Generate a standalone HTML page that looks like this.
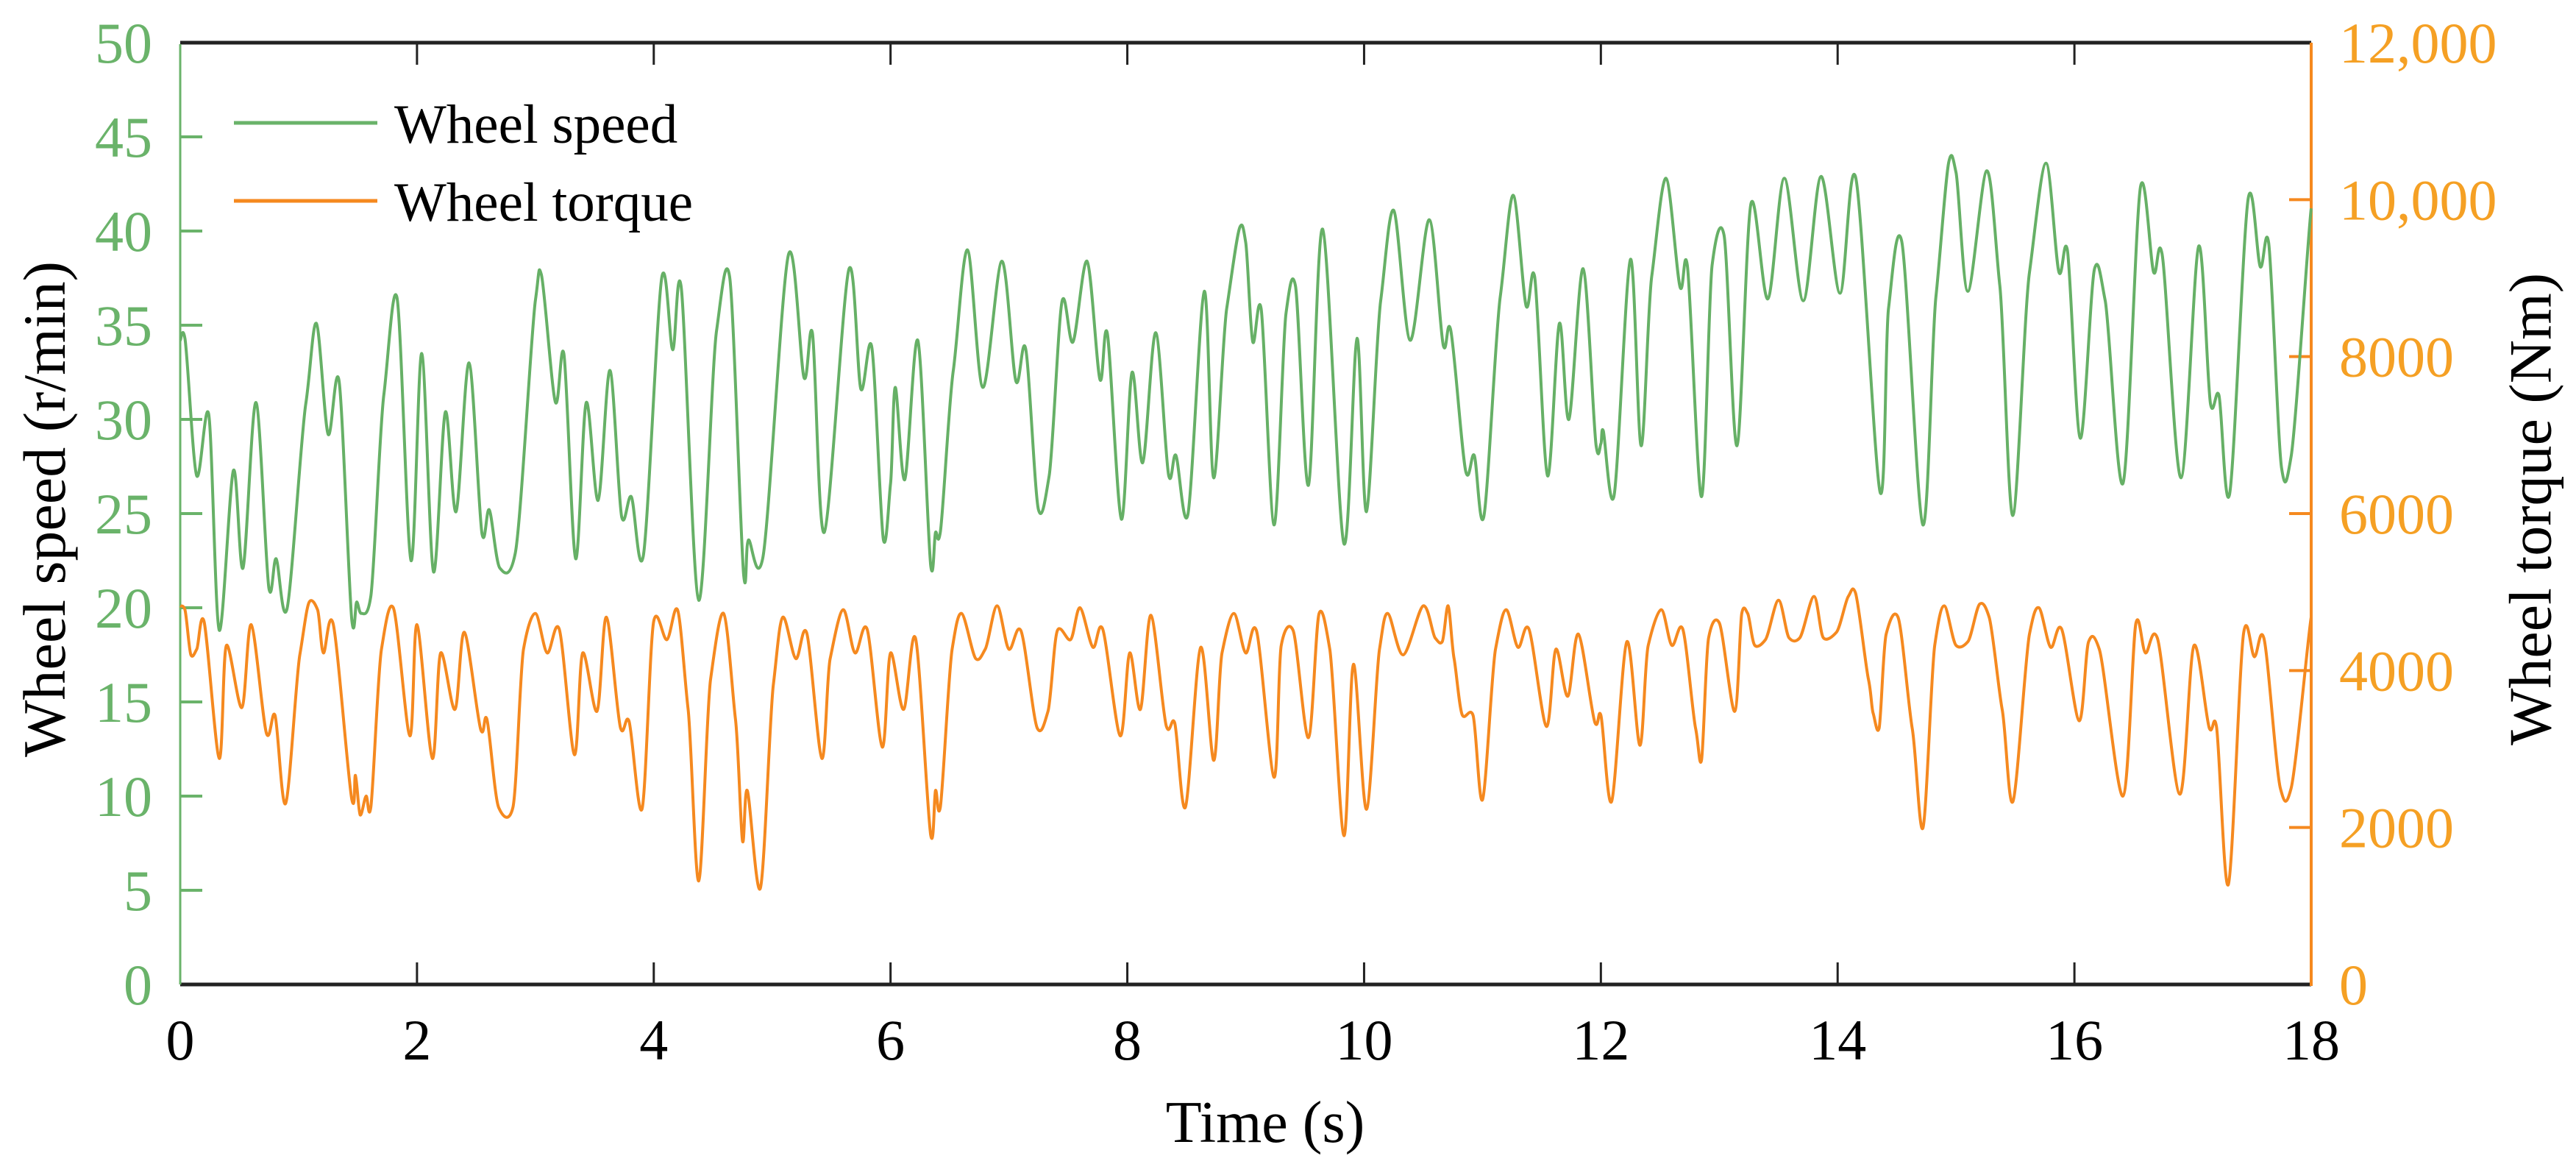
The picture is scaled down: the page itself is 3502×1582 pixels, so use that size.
<!DOCTYPE html>
<html><head><meta charset="utf-8"><style>
html,body{margin:0;padding:0;background:#fff;}
svg{display:block;font-family:"Liberation Serif",serif;}
</style></head><body>
<svg id="chart" width="3502" height="1582" viewBox="0 0 3502 1582" xmlns="http://www.w3.org/2000/svg">
<g id="axes"></g>
<g id="series"></g>
<g>
<line x1="318" y1="167" x2="513" y2="167" stroke="#6ab36a" stroke-width="5"/>
<text x="536" y="194" font-size="75" fill="#000">Wheel speed</text>
<line x1="318" y1="273" x2="513" y2="273" stroke="#f5891f" stroke-width="5"/>
<text x="536" y="300" font-size="75" fill="#000">Wheel torque</text>
</g>
<text x="1720" y="1552" font-size="80" text-anchor="middle" fill="#000">Time (s)</text>
<text transform="translate(88,692) rotate(-90)" font-size="82" text-anchor="middle" fill="#000">Wheel speed (r/min)</text>
<text transform="translate(3440,692) rotate(-90)" font-size="82" text-anchor="middle" dominant-baseline="central" fill="#000">Wheel torque (Nm)</text>
</svg>
<script>
const xTicks = [0,2,4,6,8,10,12,14,16,18];
const leftTicks = [0,5,10,15,20,25,30,35,40,45,50];
const rightTicks = [0,2000,4000,6000,8000,10000,12000];
const rightTickLabels = ["0","2000","4000","6000","8000","10,000","12,000"];

const speedTime = [0,0.04,0.14,0.24,0.33,0.45,0.53,0.64,0.75,0.81,0.90,1.06,1.15,1.25,1.34,1.45,1.49,1.53,1.61,1.72,1.83,1.95,2.04,2.14,2.24,2.33,2.44,2.55,2.61,2.70,2.83,
3.00,3.05,3.17,3.24,3.34,3.43,3.53,3.63,3.73,3.81,3.91,4.07,4.16,4.23,4.38,4.53,4.64,4.76,4.80,4.92,5.14,5.27,5.34,5.44,5.65,5.75,5.84,5.94,
6.00,6.04,6.12,6.23,6.34,6.38,6.42,6.53,6.65,6.78,6.94,7.06,7.14,7.25,7.34,7.45,7.54,7.66,7.77,7.83,7.95,8.04,8.13,8.24,8.35,8.41,8.51,8.65,8.73,8.84,8.95,
9.00,9.06,9.13,9.24,9.34,9.42,9.53,9.65,9.83,9.94,10.02,10.14,10.25,10.39,10.55,10.67,10.73,10.86,10.93,11.01,11.15,11.26,11.37,11.44,11.55,11.65,11.73,11.85,11.96,
12.00,12.02,12.11,12.25,12.34,12.43,12.55,12.67,12.73,12.85,12.94,13.04,13.15,13.27,13.41,13.55,13.71,13.86,14.02,14.15,14.36,14.43,14.54,14.72,14.83,14.94,
15.00,15.10,15.26,15.37,15.48,15.62,15.76,15.87,15.94,16.05,16.17,16.26,16.41,16.56,16.67,16.74,16.90,17.05,17.15,17.22,17.31,17.47,17.57,17.64,17.75,17.83,18.00];
const speedValue = [34.2,34.3,27.0,30.3,18.8,27.3,22.1,30.9,21.0,22.6,19.9,30.8,35.1,29.2,32.1,19.3,20.3,19.7,20.6,31.3,36.5,22.5,33.5,21.9,30.4,25.1,33.0,23.9,25.2,22.1,22.9,
36.3,37.7,30.9,33.5,22.6,30.9,25.7,32.6,24.8,25.9,22.7,37.6,33.7,37.1,20.4,34.7,37.6,21.7,23.6,22.6,38.8,32.2,34.6,24.0,38.0,31.6,33.9,23.6,
26.6,31.7,26.8,34.2,22.2,24.0,24.0,32.6,39.0,31.7,38.4,32.0,33.8,25.2,27.0,36.3,34.1,38.4,32.1,34.6,24.7,32.5,27.7,34.6,27.0,28.1,24.9,36.8,26.9,35.9,40.2,
39.4,34.1,35.9,24.4,35.6,37.1,26.5,40.1,23.4,34.3,25.1,36.3,41.1,34.2,40.6,33.9,34.8,27.2,28.1,24.8,36.5,41.9,36.0,37.6,27.0,35.1,30.0,38.0,28.6,
28.7,29.4,25.9,38.5,28.6,37.6,42.8,37.0,38.2,25.9,38.2,39.8,28.6,41.5,36.4,42.8,36.3,42.9,36.7,42.9,26.1,35.9,39.5,24.4,36.5,43.7,
43.1,36.8,43.2,37.1,24.9,37.8,43.6,37.8,39.0,29.0,38.0,36.3,26.6,42.4,37.8,38.8,26.9,39.2,30.8,31.3,26.0,41.8,38.1,39.4,27.4,28.0,41.2];

const torqueTime = [0,0.04,0.09,0.14,0.20,0.33,0.39,0.52,0.60,0.73,0.80,0.89,1.01,1.09,1.16,1.21,1.29,1.45,1.48,1.52,1.57,1.61,1.70,1.80,1.94,2.00,2.13,2.20,2.32,2.40,2.54,2.59,2.69,2.81,2.90,
3.00,3.10,3.20,3.33,3.40,3.52,3.60,3.72,3.79,3.90,4.00,4.11,4.20,4.29,4.38,4.48,4.59,4.69,4.75,4.79,4.90,5.01,5.09,5.20,5.29,5.42,5.49,5.60,5.70,5.80,5.93,
6.00,6.11,6.21,6.34,6.38,6.42,6.52,6.60,6.72,6.80,6.90,7.00,7.10,7.24,7.33,7.41,7.52,7.60,7.71,7.79,7.94,8.02,8.11,8.20,8.33,8.40,8.49,8.62,8.73,8.80,8.90,
9.00,9.09,9.24,9.30,9.40,9.53,9.62,9.71,9.83,9.91,10.02,10.13,10.20,10.33,10.50,10.60,10.66,10.71,10.76,10.83,10.92,11.00,11.11,11.20,11.30,11.39,11.54,11.62,11.72,11.81,11.95,
12.00,12.09,12.22,12.33,12.40,12.51,12.60,12.69,12.80,12.85,12.91,13.00,13.13,13.19,13.24,13.30,13.39,13.50,13.59,13.68,13.80,13.88,13.99,14.09,14.15,14.26,14.30,14.35,14.41,14.51,14.63,14.72,14.82,14.90,
15.00,15.10,15.20,15.28,15.39,15.48,15.62,15.70,15.80,15.89,16.04,16.12,16.21,16.41,16.52,16.60,16.70,16.89,17.01,17.14,17.20,17.30,17.43,17.52,17.60,17.74,17.83,18.00];
const torqueValue = [4824,4776,4200,4272,4632,2880,4320,3528,4584,3192,3432,2304,4200,4872,4776,4224,4608,2352,2664,2160,2400,2256,4272,4800,3168,4584,2880,4224,3504,4488,3240,3384,2256,2256,4272,
4728,4224,4536,2928,4224,3480,4680,3264,3360,2232,4632,4392,4776,3504,1320,3888,4728,3384,1824,2472,1224,3816,4680,4152,4488,2880,4152,4776,4224,4536,3024,
4224,3504,4416,1896,2472,2256,4272,4728,4152,4272,4824,4272,4512,3264,3480,4512,4392,4800,4296,4536,3168,4224,3504,4704,3288,3336,2256,4296,2856,4224,4728,
4224,4512,2640,4320,4512,3144,4728,4272,1896,4080,2232,4272,4728,4200,4824,4416,4368,4824,4152,3432,3432,2352,4272,4776,4296,4536,3288,4272,3672,4464,3336,
3432,2328,4368,3048,4320,4776,4320,4536,3264,2856,4416,4608,3480,4728,4728,4320,4392,4896,4416,4416,4944,4416,4488,4944,4992,3888,3456,3264,4464,4680,3264,1992,4320,4824,
4320,4368,4848,4680,3504,2328,4464,4800,4296,4536,3360,4368,4272,2400,4608,4224,4416,2424,4320,3264,3288,1272,4488,4176,4416,2496,2496,4680];

const X0 = 245, X1 = 3142, YT = 58, YB = 1338;
const xScale = t => X0 + (t / 18) * (X1 - X0);
const yLeft = v => YB - (v / 50) * (YB - YT);
const yRight = v => YB - (v / 12000) * (YB - YT);
const NS = "http://www.w3.org/2000/svg";
function mk(tag, attrs, parent) {
  const el = document.createElementNS(NS, tag);
  for (const k in attrs) el.setAttribute(k, attrs[k]);
  parent.appendChild(el);
  return el;
}
function smoothPath(pts) {
  let d = 'M' + pts[0][0].toFixed(1) + ',' + pts[0][1].toFixed(1);
  for (let i = 0; i < pts.length - 1; i++) {
    const p0 = pts[i - 1] || pts[i], p1 = pts[i], p2 = pts[i + 1], p3 = pts[i + 2] || p2;
    const k = 0.35;
    const c1x = p1[0] + (p2[0] - p0[0]) * k / 2 * 0.9, c1y = p1[1] + (p2[1] - p0[1]) * k / 2 * 0.6;
    const c2x = p2[0] - (p3[0] - p1[0]) * k / 2 * 0.9, c2y = p2[1] - (p3[1] - p1[1]) * k / 2 * 0.6;
    d += ' C' + c1x.toFixed(1) + ',' + c1y.toFixed(1) + ' ' + c2x.toFixed(1) + ',' + c2y.toFixed(1) + ' ' + p2[0].toFixed(1) + ',' + p2[1].toFixed(1);
  }
  return d;
}
const axes = document.getElementById('axes');
const series = document.getElementById('series');

let e;
e = mk('line', {x1: X0, y1: YT, x2: X1, y2: YT, stroke: '#222', 'stroke-width': 5}, axes);


e = mk('line', {x1: X0, y1: YB, x2: X1, y2: YB, stroke: '#222', 'stroke-width': 5}, axes);


e = mk('line', {x1: X0, y1: YT + 2, x2: X0, y2: YB, stroke: '#6ab36a', 'stroke-width': 3}, axes);


e = mk('line', {x1: X1, y1: YT, x2: X1, y2: YB + 2, stroke: '#f5891f', 'stroke-width': 4}, axes);



xTicks.forEach(t => {
  const x = xScale(t);
  if (t > 0 && t < 18) {
    e = mk('line', {x1: x, y1: YB, x2: x, y2: YB - 30, stroke: '#222', 'stroke-width': 3}, axes);
    
    
    e = mk('line', {x1: x, y1: YT, x2: x, y2: YT + 30, stroke: '#222', 'stroke-width': 3}, axes);
    
    
  }
  e = mk('text', {x: x, y: 1440, 'font-size': 78, 'text-anchor': 'middle', fill: '#000'}, axes);
  e.textContent = t;
  
  
});

leftTicks.forEach(v => {
  const y = yLeft(v);
  if (v > 0 && v < 50) {
    e = mk('line', {x1: X0, y1: y, x2: X0 + 30, y2: y, stroke: '#6ab36a', 'stroke-width': 4}, axes);
    
    
  }
  e = mk('text', {x: 207, y: y + 27, 'font-size': 78, 'text-anchor': 'end', fill: '#6ab36a'}, axes);
  e.textContent = v;
  
  
});

rightTicks.forEach((v, i) => {
  const y = yRight(v);
  if (v > 0 && v < 12000) {
    e = mk('line', {x1: X1, y1: y, x2: X1 - 30, y2: y, stroke: '#f5891f', 'stroke-width': 4}, axes);
    
    
  }
  e = mk('text', {x: 3180, y: y + 27, 'font-size': 78, 'text-anchor': 'start', fill: '#f5a024'}, axes);
  e.textContent = rightTickLabels[i];
  
  
});

const sp = speedTime.map((t, i) => [xScale(t), yLeft(speedValue[i])]);
e = mk('path', {d: smoothPath(sp), fill: 'none', stroke: '#66b066', 'stroke-width': 4, 'stroke-linejoin': 'round'}, series);



const tp = torqueTime.map((t, i) => [xScale(t), yRight(torqueValue[i])]);
e = mk('path', {d: smoothPath(tp), fill: 'none', stroke: '#f5891f', 'stroke-width': 4, 'stroke-linejoin': 'round'}, series);


</script>
</body></html>
